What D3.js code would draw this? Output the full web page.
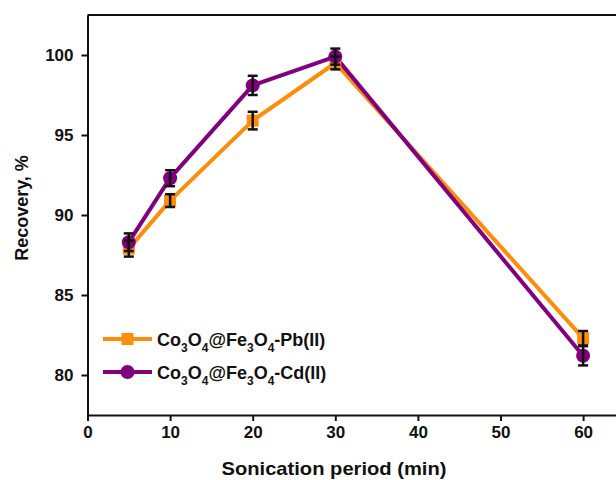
<!DOCTYPE html>
<html>
<head>
<meta charset="utf-8">
<script src="https://cdn.jsdelivr.net/npm/d3@7"></script>
<style>
  body { margin: 0; background: #fff; }
  text { font-family: "Liberation Sans", Arial, sans-serif; font-weight: bold; fill: #111; }
</style>
</head>
<body>
<svg></svg>
<script>
const width = 616
const height = 480

// data
const periods = [5, 10, 20, 30, 60]
const pbRecovery = [87.9, 90.9, 95.9, 99.5, 82.3]
const pbError = [0.5, 0.4, 0.55, 0.4, 0.45]
const cdRecovery = [88.3, 92.3, 98.1, 99.9, 81.2]
const cdError = [0.55, 0.5, 0.6, 0.5, 0.6]
const xTicks = [0, 10, 20, 30, 40, 50, 60]
const yTicks = [80, 85, 90, 95, 100]
const seriesNames = ["Pb(II)", "Cd(II)"]

const series = [
  { name: seriesNames[0], color: "#ff8c0a", shape: "square",
    points: periods.map((p, i) => ({ x: p, y: pbRecovery[i], e: pbError[i] })) },
  { name: seriesNames[1], color: "#800080", shape: "circle",
    points: periods.map((p, i) => ({ x: p, y: cdRecovery[i], e: cdError[i] })) }
]

const svg = d3.select("svg")
  .attr("width", width)
  .attr("height", height)

const x = d3.scaleLinear().domain([0, 65]).range([87.5, 624.4])
const y = d3.scaleLinear().domain([77.5, 102.5]).range([415, 15])

// frame: top line (right side runs off the picture)
svg.append("line")
  .attr("x1", x(0)).attr("x2", x(65))
  .attr("y1", y(102.5)).attr("y2", y(102.5))
  .style("stroke", "#111").style("stroke-width", 2)

const xAxis = svg.append("g")
  .attr("transform", "translate(0," + y(77.5) + ")")
  .call(d3.axisBottom(x).tickValues(xTicks).tickSize(6).tickPadding(5).tickSizeOuter(0))
const yAxis = svg.append("g")
  .attr("transform", "translate(" + x(0) + ",0)")
  .call(d3.axisLeft(y).tickValues(yTicks).tickSize(6).tickPadding(8).tickSizeOuter(0))

;[xAxis, yAxis].forEach(a => {
  a.select(".domain").style("stroke", "#111").style("stroke-width", 2)
  a.selectAll(".tick line").style("stroke", "#111").style("stroke-width", 2)
  a.selectAll(".tick text").style("font-size", "17px").style("fill", "#111")
    .style("font-family", "'Liberation Sans', Arial, sans-serif").style("font-weight", "bold")
})

// axis titles
svg.append("text")
  .attr("x", 334).attr("y", 475)
  .attr("text-anchor", "middle")
  .attr("textLength", 225)
  .attr("lengthAdjust", "spacingAndGlyphs")
  .style("font-size", "18.5px")
  .text("Sonication period (min)")

svg.append("text")
  .attr("transform", "translate(28,208) rotate(-90)")
  .attr("text-anchor", "middle")
  .style("font-size", "18px")
  .text("Recovery, %")

const line = d3.line().x(d => x(d.x)).y(d => y(d.y))

series.forEach(s => {
  svg.append("path")
    .datum(s.points)
    .attr("d", line)
    .style("fill", "none")
    .style("stroke", s.color)
    .style("stroke-width", 4)
    .style("stroke-linejoin", "round")
})

function drawMarker(g, s, cx, cy) {
  if (s.shape === "square") {
    g.append("rect")
      .attr("x", cx - 6).attr("y", cy - 6)
      .attr("width", 12).attr("height", 12)
      .style("fill", s.color)
  } else {
    g.append("circle")
      .attr("cx", cx).attr("cy", cy).attr("r", 7)
      .style("fill", s.color)
  }
}

const marks = svg.append("g")
series.forEach(s => {
  s.points.forEach(p => drawMarker(marks, s, x(p.x), y(p.y)))
})

// error bars on top
const bars = svg.append("g")
series.forEach(s => {
  s.points.forEach(p => {
    const cx = x(p.x), top = y(p.y + p.e), bot = y(p.y - p.e)
    bars.append("line").attr("x1", cx).attr("x2", cx).attr("y1", top).attr("y2", bot)
      .style("stroke", "#111").style("stroke-width", 2.5)
    ;[top, bot].forEach(yy => {
      bars.append("line").attr("x1", cx - 5).attr("x2", cx + 5).attr("y1", yy).attr("y2", yy)
        .style("stroke", "#111").style("stroke-width", 2.5)
    })
  })
})

// legend
const legend = svg.append("g")
series.forEach((s, i) => {
  const ly = 339 + i * 33
  legend.append("line")
    .attr("x1", 103).attr("x2", 152).attr("y1", ly).attr("y2", ly)
    .style("stroke", s.color).style("stroke-width", 4)
  drawMarker(legend, s, 127.5, ly)
  const t = legend.append("text")
    .attr("x", 157).attr("y", ly + 7)
    .style("font-size", "18px")
  const parts = [["Co", 0], ["3", 1], ["O", 0], ["4", 1], ["@Fe", 0], ["3", 1], ["O", 0], ["4", 1], ["-" + s.name, 0]]
  let sub = false
  parts.forEach(([txt, isSub]) => {
    const ts = t.append("tspan").text(txt)
    if (isSub) {
      ts.style("font-size", "12px").attr("dy", sub ? 0 : 6)
      sub = true
    } else {
      ts.attr("dy", sub ? -6 : 0)
      sub = false
    }
  })
})
</script>
</body>
</html>
